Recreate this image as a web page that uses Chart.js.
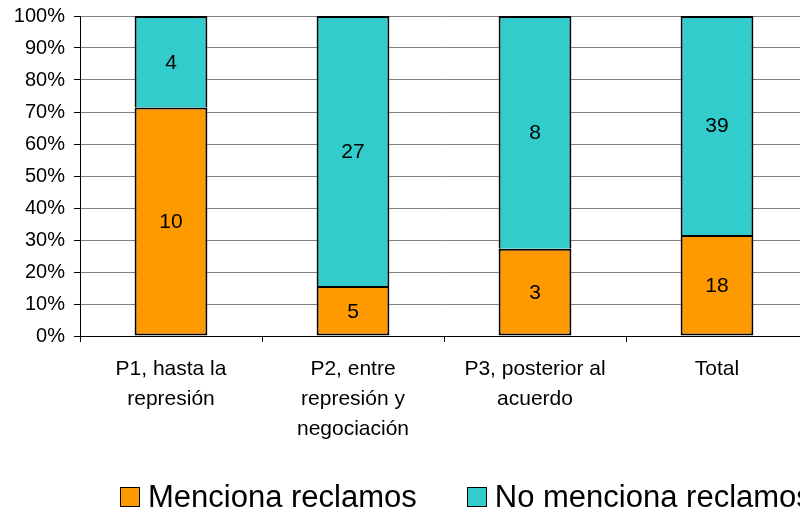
<!DOCTYPE html>
<html>
<head>
<meta charset="utf-8">
<script src="https://cdn.jsdelivr.net/npm/chart.js@4"></script>
<style>
  html, body { margin: 0; padding: 0; background: #fff; overflow: hidden; }
  #wrap { position: relative; width: 930px; height: 513px; }
  #leyenda { position: absolute; left: 120px; top: 481px; display: flex; align-items: center;
             font-family: "Liberation Sans", Arial, sans-serif; font-size: 31px; line-height: 32px;
             color: #000; white-space: nowrap; }
  #leyenda .item { display: flex; align-items: center; margin-right: 50px; }
  #leyenda .caja { width: 18px; height: 18px; border: 1.5px solid #000; margin-right: 8px; }
</style>
</head>
<body>
<div id="wrap">
  <canvas id="myChart" width="930" height="513"></canvas>
  <div id="leyenda"></div>
</div>
<script>
// categorias y conteos
const categorias = [
    ['P1, hasta la', 'represión'],
    ['P2, entre', 'represión y', 'negociación'],
    ['P3, posterior al', 'acuerdo'],
    'Total'
];
const menciona = [10, 5, 3, 18];
const noMenciona = [4, 27, 8, 39];
const ticksY = [0, 10, 20, 30, 40, 50, 60, 70, 80, 90, 100];

// porcentajes para barras apiladas al 100%
const totales = menciona.map((v, i) => v + noMenciona[i]);
const pctMenciona = menciona.map((v, i) => v / totales[i] * 100);
const pctNoMenciona = noMenciona.map((v, i) => v / totales[i] * 100);

const fuente = '"Liberation Sans", Arial, sans-serif';

// etiquetas con el conteo en el centro de cada barra
const etiquetas = {
    id: 'etiquetas',
    afterDatasetsDraw(chart) {
        const ctx = chart.ctx;
        ctx.save();
        ctx.font = '21px ' + fuente;
        ctx.fillStyle = '#000';
        ctx.textAlign = 'center';
        ctx.textBaseline = 'middle';
        chart.data.datasets.forEach((ds, i) => {
            chart.getDatasetMeta(i).data.forEach((bar, j) => {
                const yMid = (bar.y + bar.base) / 2;
                ctx.fillText(ds.conteos[j], bar.x, yMid + 1);
            });
        });
        ctx.restore();
    }
};

const ctx = document.getElementById('myChart').getContext('2d');
const chart = new Chart(ctx, {
    type: 'bar',
    data: {
        labels: categorias,
        datasets: [{
            label: 'Menciona reclamos',
            data: pctMenciona,
            conteos: menciona,
            backgroundColor: '#FF9900',
            borderColor: '#000',
            borderWidth: 2,
            borderSkipped: false,
            categoryPercentage: 1,
            barPercentage: 0.4
        }, {
            label: 'No menciona reclamos',
            data: pctNoMenciona,
            conteos: noMenciona,
            backgroundColor: '#33CCCC',
            borderColor: '#000',
            borderWidth: 2,
            borderSkipped: 'bottom',
            categoryPercentage: 1,
            barPercentage: 0.4
        }]
    },
    plugins: [etiquetas],
    options: {
        responsive: false,
        animation: false,
        layout: { padding: { top: 16, right: 122, bottom: 0, left: 0 } },
        plugins: {
            tooltip: { enabled: false },
            legend: { display: false }
        },
        scales: {
            x: {
                stacked: true,
                grid: {
                    offset: true,
                    drawOnChartArea: false,
                    color: '#000',
                    tickLength: 6
                },
                border: { color: '#000', width: 1 },
                ticks: {
                    color: '#000',
                    maxRotation: 0,
                    padding: 12,
                    font: { family: fuente, size: 21, lineHeight: 1.43 }
                },
                afterFit(scale) { scale.height = 177; }
            },
            y: {
                stacked: true,
                min: 0,
                max: 100,
                afterBuildTicks(scale) { scale.ticks = ticksY.map(v => ({ value: v })); },
                grid: { color: '#808080', lineWidth: 1, tickLength: 6, tickColor: '#000' },
                border: { color: '#000', width: 1 },
                ticks: {
                    color: '#000',
                    padding: 9,
                    font: { family: fuente, size: 20 },
                    callback: v => v + '%'
                },
                afterFit(scale) {
                    scale.width = 80;
                    scale.paddingTop = 0;
                    scale.paddingBottom = 0;
                }
            }
        }
    }
});

// leyenda en HTML a partir de los datasets
const leyenda = document.getElementById('leyenda');
chart.data.datasets.forEach(ds => {
    const item = document.createElement('div');
    item.className = 'item';
    const caja = document.createElement('span');
    caja.className = 'caja';
    caja.style.background = ds.backgroundColor;
    item.appendChild(caja);
    item.appendChild(document.createTextNode(ds.label));
    leyenda.appendChild(item);
});
</script>
</body>
</html>
